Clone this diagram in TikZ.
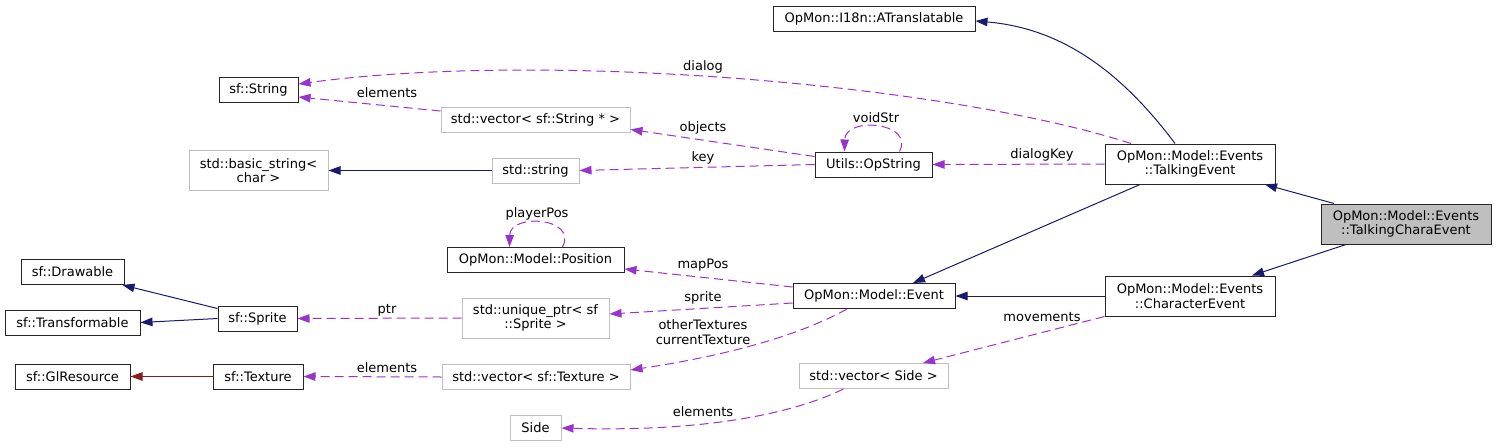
\documentclass[tikz,border=0pt]{standalone}
\usepackage{fontspec}
\setmainfont{DejaVu Sans}
\usetikzlibrary{arrows.meta}
\definecolor{inhblue}{HTML}{191970}
\definecolor{usepurple}{HTML}{9A32CD}
\definecolor{privred}{HTML}{8B1A1A}
\definecolor{boxgray}{HTML}{BFBFBF}
\newcommand{\dgfont}{\fontsize{13}{14.3}\selectfont}
\tikzset{
  cls/.style={draw=black!85,line width=1pt,minimum height=25pt,inner sep=1pt,align=center,font=\dgfont},
  tall/.style={minimum height=40pt},
  ext/.style={cls,draw=boxgray},
  cur/.style={cls,fill=boxgray},
  inh/.style={-{Triangle[length=12pt,width=8.5pt]},line width=1pt,draw=inhblue},
  priv/.style={inh,draw=privred},
  use/.style={-{Triangle[length=12pt,width=8.5pt]},line width=1pt,draw=usepurple,dash pattern=on 9pt off 5pt},
  lbl/.style={inner sep=0pt,align=center,font=\dgfont}
}
\begin{document}
\begin{tikzpicture}[x=1pt,y=-1pt]
\useasboundingbox (0,0) rectangle (1496,447);
% classes
\node[cls,minimum width=202pt] (at) at (874,18.5) {OpMon::I18n::ATranslatable};
\node[cls,minimum width=79pt] (str) at (258.5,90) {sf::String};
\node[ext,minimum width=189pt] (vs) at (535.5,119.5) {std::vector< sf::String * >};
\node[ext,tall,minimum width=139pt] (bs) at (258.5,170.5) {std::basic\_string<\\char >};
\node[ext,minimum width=87pt] (ss) at (535.5,170.5) {std::string};
\node[cls,minimum width=117pt] (ops) at (873.5,164.5) {Utils::OpString};
\node[cls,tall,minimum width=170pt] (te) at (1190,164) {OpMon::Model::Events\\::TalkingEvent};
\node[cur,tall,minimum width=170pt] (tc) at (1406,224) {OpMon::Model::Events\\::TalkingCharaEvent};
\node[cls,tall,minimum width=170pt] (ce) at (1190,296) {OpMon::Model::Events\\::CharacterEvent};
\node[cls,minimum width=177pt] (pos) at (535.5,260) {OpMon::Model::Position};
\node[cls,minimum width=162pt] (ev) at (874,296) {OpMon::Model::Event};
\node[ext,tall,minimum width=147pt] (up) at (535.5,318) {std::unique\_ptr< sf\\::Sprite >};
\node[ext,minimum width=188pt] (vt) at (536,377) {std::vector< sf::Texture >};
\node[ext,minimum width=149pt] (vsd) at (873.5,376) {std::vector< Side >};
\node[ext,minimum width=51pt] (sd) at (535.5,428) {Side};
\node[cls,minimum width=103pt] (dr) at (72.5,272) {sf::Drawable};
\node[cls,minimum width=135pt] (tr) at (72.5,322.5) {sf::Transformable};
\node[cls,minimum width=79pt] (sp) at (257.5,318.5) {sf::Sprite};
\node[cls,minimum width=115pt] (gl) at (72.5,376.5) {sf::GlResource};
\node[cls,minimum width=90pt] (tx) at (258,376.5) {sf::Texture};
% inheritance
\draw[inh] ([xshift=-15pt]te.north) .. controls (1120,70) and (1060,28) .. ([yshift=-2.5pt]at.east);
\draw[inh] ([xshift=-72pt]tc.north) -- ([xshift=75pt]te.south);
\draw[inh] ([xshift=-60pt]tc.south) -- ([xshift=62pt]ce.north);
\draw[inh] ([xshift=-50pt]te.south) -- ([xshift=39pt]ev.north);
\draw[inh] (ce.west) -- (ev.east);
\draw[inh] (ss.west) -- (bs.east);
\draw[inh] ([yshift=10pt]sp.west) -- ([xshift=50pt]dr.south);
\draw[inh] (sp.west) -- (tr.east);
\draw[priv] (tx.west) -- (gl.east);
% members
\draw[use] ([xshift=-59pt]te.north) .. controls (950,85) and (550,50) .. ([yshift=6pt]str.east);
\draw[use] ([yshift=8.5pt]vs.west) -- ([yshift=-7pt]str.east);
\draw[use] ([yshift=8pt]ops.west) -- ([yshift=-10pt]vs.east);
\draw[use] (ops.west) -- (ss.east);
\draw[use] (te.west) -- (ops.east);
\draw[use] ([xshift=26pt]ops.north) .. controls (915,122) and (845,116) .. ([xshift=-29pt]ops.north);
\draw[use] ([xshift=27pt]pos.north) .. controls (578,217) and (510,213) .. ([xshift=-26pt]pos.north);
\draw[use] ([yshift=9pt]ev.west) -- ([yshift=-9pt]pos.east);
\draw[use] ([yshift=-7pt]ev.west) -- ([yshift=4pt]up.east);
\draw[use] (up.west) -- (sp.east);
\draw[use] (vt.west) -- (tx.east);
\draw[use] ([xshift=-27pt]ev.south) .. controls (800,335) and (730,355) .. ([yshift=7pt]vt.east);
\draw[use] (ce.south west) -- ([xshift=49.5pt]vsd.north);
\draw[use] ([xshift=-30pt]vsd.south) .. controls (790,415) and (700,432) .. (sd.east);
% labels
\node[lbl] (ldialog) at (703,67) {dialog};
\node[lbl] (lelems) at (387,93) {elements};
\node[lbl] (lobjects) at (703,128) {objects};
\node[lbl] (lkey) at (703,158) {key};
\node[lbl] (lvoid) at (876,118) {voidStr};
\node[lbl] (ldkey) at (1042,155) {dialogKey};
\node[lbl] (lplayer) at (537,214) {playerPos};
\node[lbl] (lmap) at (703,265) {mapPos};
\node[lbl] (lsprite) at (703,298) {sprite};
\node[lbl] (lptr) at (387,310) {ptr};
\node[lbl] (ltex) at (703,332) {otherTextures\\currentTexture};
\node[lbl] (lelemt) at (387,368) {elements};
\node[lbl] (lmove) at (1042,317) {movements};
\node[lbl] (lelemsd) at (703,412) {elements};
\end{tikzpicture}
\end{document}
